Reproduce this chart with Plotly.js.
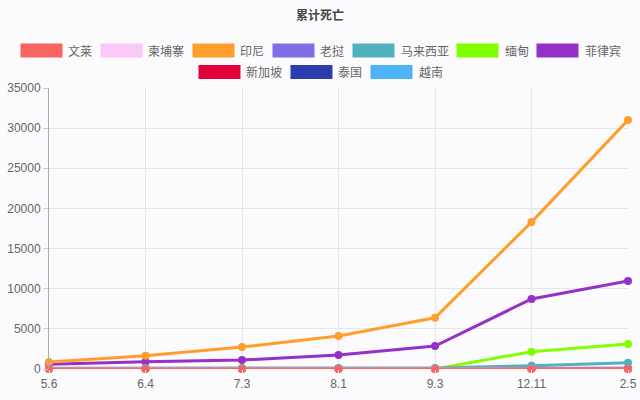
<!DOCTYPE html>
<html>
<head>
<meta charset="utf-8">
<script src="https://cdn.plot.ly/plotly-3.0.1.min.js"></script>
<style>html,body{margin:0;padding:0;background:#fbfafc;}#chart{width:640px;height:400px;}</style>
</head>
<body>
<div id="chart"></div>
<script>
const dates = ["5.6", "6.4", "7.3", "8.1", "9.3", "12.11", "2.5"];
const countries = ["文莱", "柬埔寨", "印尼", "老挝", "马来西亚", "缅甸", "菲律宾", "新加坡", "泰国", "越南"];
const colors = ["#f76560", "#fbc8fa", "#ff9e2c", "#7f6fe6", "#4fb3bf", "#80ff00", "#9530c8", "#e4003a", "#2c3caf", "#4db3f5"];
const brunei = [1, 2, 3, 3, 3, 3, 3];
const cambodia = [0, 0, 0, 0, 0, 0, 0];
const indonesia = [870, 1650, 2740, 4100, 6380, 18300, 31000];
const laos = [0, 0, 0, 0, 0, 0, 0];
const malaysia = [105, 118, 121, 125, 128, 410, 780];
const myanmar = [6, 6, 6, 6, 6, 2150, 3110];
const philippines = [600, 910, 1120, 1740, 2860, 8720, 10960];
const singapore = [20, 24, 26, 27, 27, 29, 29];
const thailand = [54, 58, 58, 58, 58, 60, 79];
const vietnam = [0, 0, 0, 0, 35, 35, 35];
const series = [brunei, cambodia, indonesia, laos, malaysia, myanmar, philippines, singapore, thailand, vietnam];

const W = 640, H = 400;
const M = {l: 49, r: 12, t: 88, b: 31};
const PW = W - M.l - M.r, PH = H - M.t - M.b;
const px2x = p => (p - M.l) / PW;
const px2y = p => (H - M.b - p) / PH;

const traces = [];
// data lines, drawn so that the first series ends up on top
for (let i = countries.length - 1; i >= 0; i--) {
  traces.push({
    x: dates, y: series[i], type: 'scatter', mode: 'lines+markers', name: countries[i],
    line: {color: colors[i], width: 3}, marker: {color: colors[i], size: 8},
    cliponaxis: false, showlegend: false
  });
}

// custom legend (boxes + labels) laid out in rows, centred
const legendFont = '12px "Noto Sans CJK SC", sans-serif';
const ctx = document.createElement('canvas').getContext('2d');
ctx.font = legendFont;
const boxW = 42, boxH = 14, textGap = 5, itemGap = 9, maxRow = W - 20;
const items = countries.map((c, i) => ({name: c, color: colors[i], tw: ctx.measureText(c).width}));
const rows = [];
let cur = [], curW = 0;
items.forEach(it => {
  const w = boxW + textGap + it.tw;
  const add = (cur.length ? itemGap : 0) + w;
  if (cur.length && curW + add > maxRow) { rows.push({items: cur, w: curW}); cur = []; curW = 0; }
  curW += (cur.length ? itemGap : 0) + w;
  cur.push(it);
});
if (cur.length) rows.push({items: cur, w: curW});
const shapes = [], annotations = [];
const rowY = [50.5, 72];
rows.forEach((row, r) => {
  let x = (W - row.w) / 2;
  const cy = rowY[r];
  row.items.forEach(it => {
    shapes.push({type: 'rect', xref: 'paper', yref: 'paper', x0: px2x(x), x1: px2x(x + boxW),
      y0: px2y(cy + boxH / 2), y1: px2y(cy - boxH / 2), fillcolor: it.color, line: {width: 0}, layer: 'above'});
    annotations.push({xref: 'paper', yref: 'paper', x: px2x(x + boxW + textGap), y: px2y(cy), xanchor: 'left', yanchor: 'middle',
      text: it.name, showarrow: false, font: {size: 12, color: '#666', family: 'Noto Sans CJK SC, sans-serif'}, borderpad: 0});
    x += boxW + textGap + it.tw + itemGap;
  });
});

const layout = {
  width: W, height: H,
  paper_bgcolor: '#fbfafc', plot_bgcolor: '#fbfafc',
  margin: M,
  font: {family: 'Liberation Sans, Noto Sans CJK SC, sans-serif', size: 12, color: '#666'},
  title: {text: '<b>累计死亡</b>', x: 0.5, xref: 'container', y: 1 - 16 / H, yanchor: 'middle',
    font: {size: 12, color: '#444', family: 'Noto Sans CJK SC, sans-serif'}},
  showlegend: false,
  shapes: shapes, annotations: annotations,
  xaxis: {type: 'category', range: [0, 6], showgrid: true, gridcolor: '#e6e6e6', showline: false,
    ticks: 'outside', ticklen: 4, tickcolor: '#e6e6e6', zeroline: false, fixedrange: true,
    tickfont: {size: 12, color: '#666'}},
  yaxis: {range: [0, 35000], dtick: 5000, tickformat: 'd', showgrid: true, gridcolor: '#e6e6e6', showline: true, linecolor: '#aaa',
    ticks: 'outside', ticklen: 5, tickcolor: '#ccc', zeroline: false, fixedrange: true,
    tickfont: {size: 12, color: '#666'}},
  hovermode: false
};
Plotly.newPlot('chart', traces, layout, {displayModeBar: false, staticPlot: true});
</script>
</body>
</html>
